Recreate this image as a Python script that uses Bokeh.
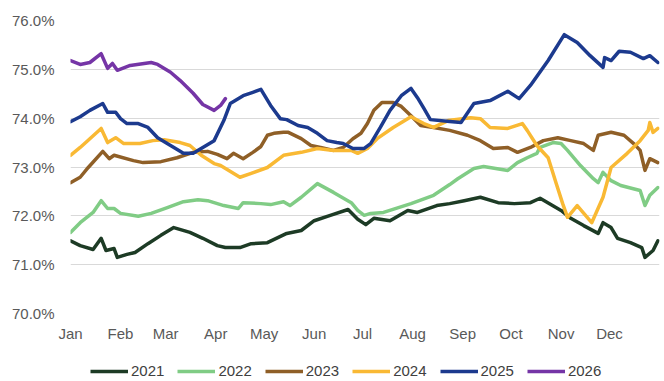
from bokeh.plotting import figure
from bokeh.layouts import column
from bokeh.models import Legend, LegendItem, FixedTicker, PrintfTickFormatter, Range1d
from bokeh.embed import file_html
from bokeh.resources import INLINE

# x = day of year (0 = Jan 1), y = percent
month_ticks = [0, 31, 59, 90, 120, 151, 181, 212, 243, 273, 304, 334]
month_labels = ["Jan", "Feb", "Mar", "Apr", "May", "Jun", "Jul", "Aug", "Sep", "Oct", "Nov", "Dec"]
y_ticks = [70, 71, 72, 73, 74, 75, 76]

d2021 = [0, 6, 14, 19, 22, 27, 29, 35, 40, 48, 56, 64, 74, 82, 91, 96, 105, 112, 122, 134, 143, 151, 161, 172,
         178, 183, 188, 198, 209, 215, 227, 235, 244, 254, 265, 275, 285, 291, 304, 310, 318, 327, 330, 335, 339,
         347, 354, 356, 361, 364]
v2021 = [71.49, 71.39, 71.31, 71.54, 71.29, 71.33, 71.15, 71.21, 71.25, 71.43, 71.60, 71.76, 71.66, 71.54, 71.39,
         71.35, 71.35, 71.43, 71.45, 71.64, 71.70, 71.90, 72.01, 72.13, 71.93, 71.82, 71.95, 71.90, 72.11, 72.07,
         72.21, 72.25, 72.31, 72.38, 72.27, 72.25, 72.27, 72.36, 72.11, 71.95, 71.80, 71.64, 71.86, 71.76, 71.54,
         71.45, 71.35, 71.15, 71.29, 71.49]

d2022 = [0, 6, 14, 19, 23, 27, 31, 42, 50, 60, 70, 79, 85, 95, 104, 107, 118, 124, 132, 136, 143, 153, 163, 174,
         178, 182, 186, 194, 211, 225, 235, 240, 250, 256, 271, 277, 283, 289, 291, 299, 304, 308, 316, 324, 327,
         330, 335, 341, 353, 356, 359, 364]
v2022 = [71.66, 71.86, 72.07, 72.31, 72.15, 72.15, 72.05, 71.99, 72.05, 72.17, 72.29, 72.33, 72.31, 72.21, 72.15,
         72.27, 72.25, 72.23, 72.29, 72.21, 72.38, 72.66, 72.48, 72.27, 72.11, 72.01, 72.05, 72.07, 72.25, 72.42,
         72.64, 72.76, 72.97, 73.01, 72.93, 73.09, 73.19, 73.28, 73.40, 73.50, 73.48, 73.34, 73.03, 72.76, 72.68,
         72.89, 72.72, 72.62, 72.52, 72.21, 72.42, 72.58]

d2023 = [0, 6, 11, 20, 24, 27, 39, 45, 56, 66, 76, 85, 91, 97, 101, 107, 113, 118, 122, 126, 132, 135, 143, 149,
         155, 163, 169, 175, 180, 184, 188, 193, 200, 205, 211, 217, 225, 235, 246, 254, 262, 271, 277, 285, 293,
         302, 310, 318, 324, 327, 335, 343, 349, 353, 356, 359, 364]
v2023 = [72.68, 72.79, 72.99, 73.32, 73.17, 73.24, 73.13, 73.09, 73.11, 73.19, 73.30, 73.32, 73.26, 73.17, 73.28,
         73.17, 73.30, 73.42, 73.65, 73.69, 73.71, 73.71, 73.58, 73.44, 73.40, 73.34, 73.40, 73.58, 73.69, 73.89,
         74.16, 74.32, 74.32, 74.24, 74.05, 73.85, 73.81, 73.75, 73.65, 73.54, 73.38, 73.40, 73.30, 73.40, 73.54,
         73.60, 73.54, 73.48, 73.34, 73.65, 73.71, 73.65, 73.48, 73.34, 72.93, 73.17, 73.09]

d2024 = [0, 6, 12, 19, 23, 28, 33, 43, 51, 58, 68, 74, 81, 89, 93, 105, 112, 122, 132, 143, 153, 163, 174, 178,
         184, 190, 200, 211, 219, 225, 234, 248, 254, 260, 271, 280, 283, 289, 296, 301, 305, 308, 314, 323, 330,
         335, 345, 353, 358, 359, 361, 364]
v2024 = [73.24, 73.40, 73.58, 73.79, 73.50, 73.60, 73.48, 73.48, 73.54, 73.56, 73.50, 73.44, 73.24, 73.07, 73.03,
         72.79, 72.87, 72.99, 73.24, 73.30, 73.38, 73.34, 73.34, 73.28, 73.38, 73.58, 73.81, 74.03, 73.89, 73.81,
         73.95, 74.01, 73.99, 73.81, 73.79, 73.89, 73.75, 73.44, 73.19, 72.66, 72.25, 71.97, 72.21, 71.86, 72.38,
         72.99, 73.28, 73.54, 73.75, 73.91, 73.71, 73.79]

d2025 = [0, 6, 12, 20, 23, 28, 31, 35, 42, 48, 54, 62, 70, 76, 82, 89, 95, 99, 107, 113, 118, 124, 130, 134, 141,
         147, 153, 159, 165, 169, 175, 182, 186, 192, 198, 205, 211, 215, 219, 223, 235, 242, 250, 260, 271, 278,
         285, 296, 306, 314, 322, 330, 331, 335, 340, 347, 355, 359, 364]
v2025 = [73.93, 74.03, 74.16, 74.30, 74.12, 74.12, 73.99, 73.89, 73.89, 73.81, 73.60, 73.44, 73.28, 73.28, 73.40,
         73.54, 73.95, 74.30, 74.46, 74.53, 74.59, 74.26, 73.99, 73.97, 73.85, 73.81, 73.69, 73.54, 73.50, 73.48,
         73.38, 73.38, 73.48, 73.81, 74.16, 74.46, 74.61, 74.42, 74.20, 73.97, 73.93, 73.91, 74.30, 74.36, 74.55,
         74.40, 74.67, 75.18, 75.71, 75.55, 75.28, 75.04, 75.24, 75.18, 75.37, 75.35, 75.22, 75.28, 75.14]

d2026 = [0, 6, 12, 19, 23, 26, 29, 37, 50, 54, 62, 68, 76, 82, 89, 93, 96]
v2026 = [75.18, 75.10, 75.14, 75.32, 75.02, 75.12, 74.98, 75.08, 75.14, 75.10, 74.94, 74.77, 74.51, 74.28, 74.16,
         74.26, 74.40]

series = [
    ("2021", d2021, v2021, "#1d3b25"),
    ("2022", d2022, v2022, "#80cc85"),
    ("2023", d2023, v2023, "#8f5f27"),
    ("2024", d2024, v2024, "#f9b934"),
    ("2025", d2025, v2025, "#1c3a8e"),
    ("2026", d2026, v2026, "#7535a6"),
]

FONT = "Liberation Sans"
W = 664

p = figure(width=W, height=348, output_backend="svg", toolbar_location=None,
           x_range=Range1d(0, 365), y_range=Range1d(70, 76),
           min_border_left=70, min_border_right=5, min_border_top=20, min_border_bottom=35)
p.outline_line_color = None
p.background_fill_color = "white"
p.border_fill_color = "white"
p.xgrid.visible = False
p.ygrid.grid_line_color = "#d9d9d9"
p.ygrid.grid_line_width = 1.2

p.yaxis.ticker = FixedTicker(ticks=y_ticks)
p.yaxis.formatter = PrintfTickFormatter(format="%.1f%%")
p.xaxis.ticker = FixedTicker(ticks=month_ticks)
p.xaxis.major_label_overrides = {t: l for t, l in zip(month_ticks, month_labels)}

for ax in (p.xaxis[0], p.yaxis[0]):
    ax.axis_line_color = None
    ax.major_tick_line_color = None
    ax.minor_tick_line_color = None
    ax.major_label_text_font = FONT
    ax.major_label_text_font_size = "15px"
    ax.major_label_text_color = "#595959"
p.yaxis.major_label_standoff = 10
p.xaxis.major_label_standoff = 5

for name, d, v, c in series:
    p.line(d, v, line_color=c, line_width=3.5, line_join="round", line_cap="round")

# legend strip below the chart (its lines fall outside this strip's ranges,
# only their legend swatches are visible)
q = figure(width=W, height=33, output_backend="svg", toolbar_location=None,
           x_range=Range1d(0, 1), y_range=Range1d(0, 1),
           min_border_left=0, min_border_right=0, min_border_top=0, min_border_bottom=0)
q.axis.visible = False
q.grid.visible = False
q.outline_line_color = None
q.background_fill_color = "white"
q.border_fill_color = "white"

items = []
for name, d, v, c in series:
    r = q.line(d, v, line_color=c, line_width=3.5)
    items.append(LegendItem(label=name, renderers=[r]))

legend = Legend(items=items, orientation="horizontal", location=(20, 2),
                glyph_width=38, glyph_height=16, label_standoff=3, spacing=13,
                padding=0, margin=0, border_line_color=None, background_fill_alpha=0,
                label_text_font=FONT, label_text_font_size="15px", label_text_color="#404040")
q.add_layout(legend, "center")

layout = column(p, q, spacing=0)
open("out.html", "w").write(file_html(layout, INLINE))
